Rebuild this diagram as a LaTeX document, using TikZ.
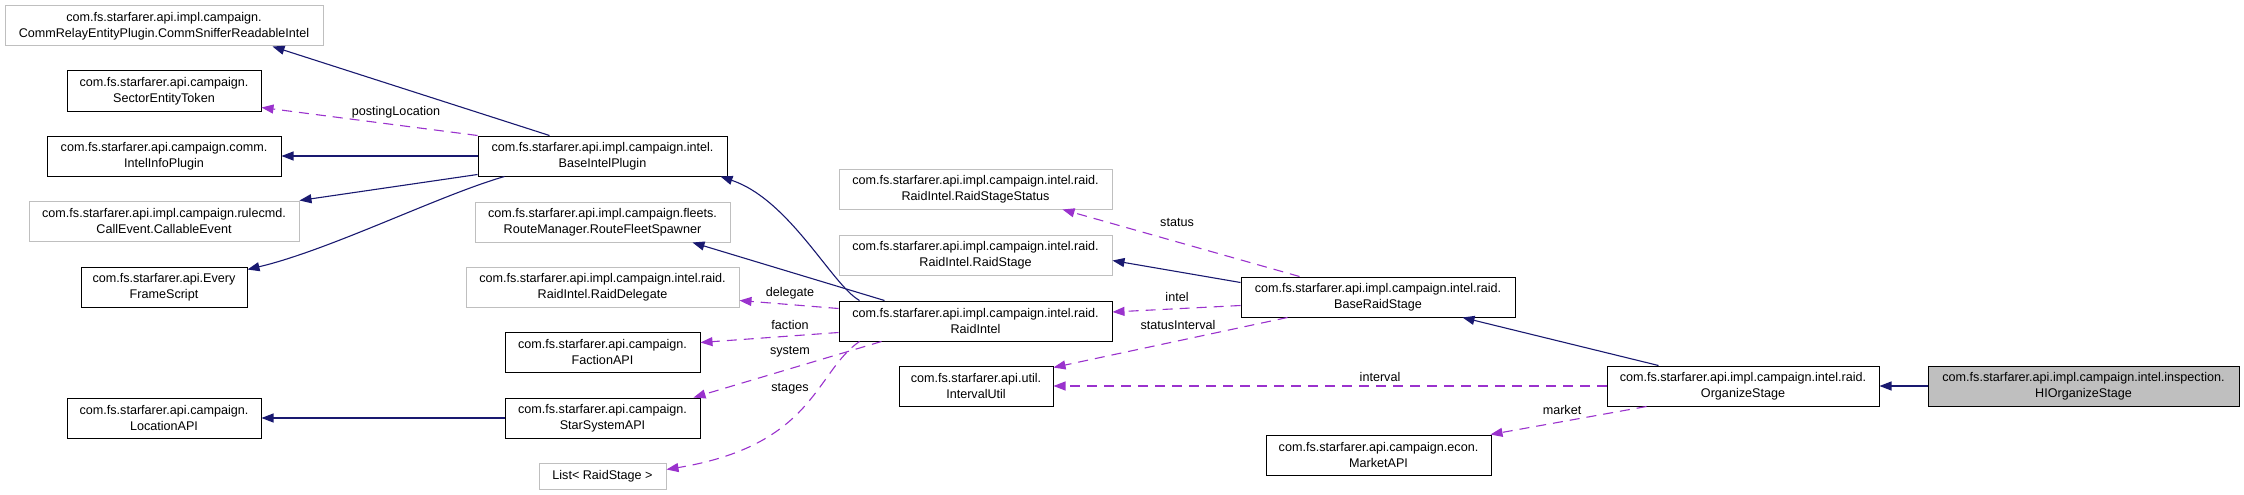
\documentclass[tikz,border=0pt]{standalone}
\usepackage{fontspec}
\setmainfont{Liberation Sans}
\usetikzlibrary{arrows.meta,calc}
\definecolor{inhblue}{HTML}{191970}
\definecolor{usepurple}{HTML}{9A32CD}
\definecolor{boxgrey}{HTML}{BFBFBF}
\tikzset{
	cls/.style={draw=black, line width=1pt, minimum height=40pt, inner sep=0pt, align=center, font=\fontsize{12.6}{16}\selectfont},
	extcls/.style={cls, draw=boxgrey},
	focuscls/.style={cls, fill=boxgrey},
	inh/.style={draw=inhblue, line width=1.1pt, -{Triangle[length=12pt,width=9pt]}},
	uses/.style={draw=usepurple, line width=1.1pt, dash pattern=on 10pt off 7pt, -{Triangle[length=12pt,width=9pt]}},
	lbl/.style={font=\fontsize{12.6}{16}\selectfont, inner sep=0pt},
}
\begin{document}
\begin{tikzpicture}[x=1pt, y=-1pt]
	\useasboundingbox (0,0) rectangle (2244,495);
	
	\node[extcls, minimum width=318pt] (sniffer) at (164,26) {com.fs.starfarer.api.impl.campaign.\\CommRelayEntityPlugin.CommSnifferReadableIntel};
	\node[cls, minimum width=194pt] (sector) at (164,91) {com.fs.starfarer.api.campaign.\\SectorEntityToken};
	\node[cls, minimum width=234pt] (infoplug) at (164,156) {com.fs.starfarer.api.campaign.comm.\\IntelInfoPlugin};
	\node[extcls, minimum width=270pt] (callable) at (164,221) {com.fs.starfarer.api.impl.campaign.rulecmd.\\CallEvent.CallableEvent};
	\node[cls, minimum width=166pt] (everyframe) at (164,287) {com.fs.starfarer.api.Every\\FrameScript};
	\node[cls, minimum width=194pt] (location) at (164,418) {com.fs.starfarer.api.campaign.\\LocationAPI};
	
	\node[cls, minimum width=249pt] (baseintel) at (602.5,156) {com.fs.starfarer.api.impl.campaign.intel.\\BaseIntelPlugin};
	\node[extcls, minimum width=255pt] (spawner) at (602.5,222) {com.fs.starfarer.api.impl.campaign.fleets.\\RouteManager.RouteFleetSpawner};
	\node[extcls, minimum width=273pt] (delegate) at (602.5,287) {com.fs.starfarer.api.impl.campaign.intel.raid.\\RaidIntel.RaidDelegate};
	\node[cls, minimum width=195pt] (faction) at (602.5,352) {com.fs.starfarer.api.campaign.\\FactionAPI};
	\node[cls, minimum width=195pt] (starsys) at (602.5,418) {com.fs.starfarer.api.campaign.\\StarSystemAPI};
	\node[extcls, minimum width=127pt, minimum height=26pt] (raidlist) at (602.5,476) {List< RaidStage >};
	
	\node[extcls, minimum width=273pt] (stagestatus) at (975.5,189) {com.fs.starfarer.api.impl.campaign.intel.raid.\\RaidIntel.RaidStageStatus};
	\node[extcls, minimum width=273pt] (raidstage) at (975.5,255) {com.fs.starfarer.api.impl.campaign.intel.raid.\\RaidIntel.RaidStage};
	\node[cls, minimum width=273pt] (raidintel) at (975.5,321) {com.fs.starfarer.api.impl.campaign.intel.raid.\\RaidIntel};
	\node[cls, minimum width=154pt] (interval) at (976,386) {com.fs.starfarer.api.util.\\IntervalUtil};
	
	\node[cls, minimum width=274pt] (baseraid) at (1378,297) {com.fs.starfarer.api.impl.campaign.intel.raid.\\BaseRaidStage};
	\node[cls, minimum width=225pt] (market) at (1378.5,455) {com.fs.starfarer.api.campaign.econ.\\MarketAPI};
	\node[cls, minimum width=272pt] (organize) at (1743,386) {com.fs.starfarer.api.impl.campaign.intel.raid.\\OrganizeStage};
	\node[focuscls, minimum width=311pt] (hiorg) at (2083.5,386) {com.fs.starfarer.api.impl.campaign.intel.inspection.\\HIOrganizeStage};
	
	\draw[inh] ($(baseintel.north west)+(72,0)$) -- ($(sniffer.south west)+(268,0)$);
	\draw[inh] (baseintel.west) -- (infoplug.east);
	\draw[inh] ($(baseintel.south west)+(0,-2)$) -- (callable.north east);
	\draw[inh] ($(baseintel.south west)+(27,0)$) .. controls (440,195) and (330,250) .. ($(everyframe.north east)+(0,3)$);
	\draw[inh] ($(raidintel.north west)+(21,0)$) .. controls (832,285) and (790,200) .. ($(baseintel.south east)+(-7,0)$);
	\draw[inh] ($(raidintel.north west)+(46,0)$) -- ($(spawner.south west)+(218,0)$);
	\draw[inh] (starsys.west) -- (location.east);
	\draw[inh] ($(baseraid.north west)+(0,6)$) -- ($(raidstage.south east)+(0,-15)$);
	\draw[inh] ($(organize.north west)+(52,0)$) -- ($(baseraid.south west)+(222,0)$);
	\draw[inh] (hiorg.west) -- (organize.east);
	
	\draw[uses] (baseintel.north west) -- ($(sector.south east)+(0,-4)$);
	\draw[uses] ($(raidintel.north west)+(0,8)$) -- ($(delegate.south east)+(0,-7)$);
	\draw[uses] ($(raidintel.south west)+(0,-9)$) -- ($(faction.north east)+(0,11)$);
	\draw[uses] ($(raidintel.south west)+(43,0)$) -- ($(starsys.north east)+(-7,0)$);
	\draw[uses] ($(raidintel.south west)+(21,0)$) .. controls (815,372) and (815,445) .. ($(raidlist.north east)+(0,7)$);
	\draw[uses] ($(baseraid.north west)+(59,0)$) -- ($(stagestatus.south west)+(224,0)$);
	\draw[uses] ($(baseraid.south west)+(0,-12)$) -- ($(raidintel.east)+(0,-9)$);
	\draw[uses] ($(baseraid.south west)+(47,0)$) -- ($(interval.north east)+(0,2)$);
	\draw[uses] (organize.west) -- (interval.east);
	\draw[uses] ($(organize.south west)+(40,0)$) -- ($(market.north east)+(-1,0)$);
	
	\node[lbl] (lposting) at (396,112) {postingLocation};
	\node[lbl] (ldelegate) at (790,293) {delegate};
	\node[lbl] (lfaction) at (790,325) {faction};
	\node[lbl] (lsystem) at (790,352) {system};
	\node[lbl] (lstages) at (790,389) {stages};
	\node[lbl] (lstatus) at (1177,222) {status};
	\node[lbl] (lintel) at (1177,297) {intel};
	\node[lbl] (lstatusint) at (1178,325) {statusInterval};
	\node[lbl] (linterval) at (1380,377) {interval};
	\node[lbl] (lmarket) at (1562,410) {market};
	
\end{tikzpicture}
\end{document}
